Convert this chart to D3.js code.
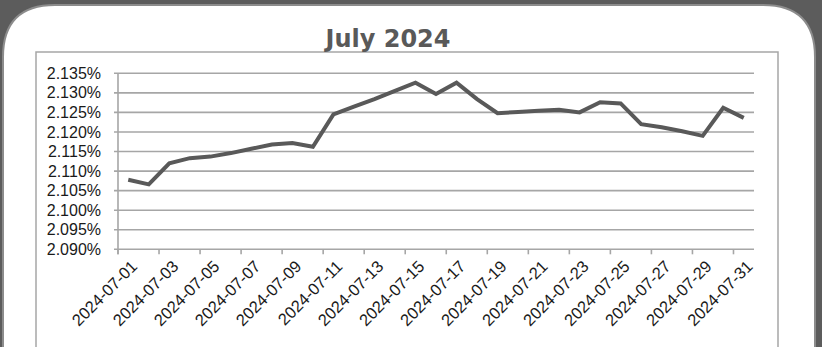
<!DOCTYPE html>
<html><head><meta charset="utf-8">
<script src="https://cdn.jsdelivr.net/npm/d3@7"></script>
<style>body{margin:0;background:#5c5c5c;overflow:hidden}</style>
</head><body>
<svg id="c" width="822" height="347"></svg>
<script>
const dates = ["2024-07-01","2024-07-02","2024-07-03","2024-07-04","2024-07-05","2024-07-06","2024-07-07","2024-07-08","2024-07-09","2024-07-10","2024-07-11","2024-07-12","2024-07-13","2024-07-14","2024-07-15","2024-07-16","2024-07-17","2024-07-18","2024-07-19","2024-07-20","2024-07-21","2024-07-22","2024-07-23","2024-07-24","2024-07-25","2024-07-26","2024-07-27","2024-07-28","2024-07-29","2024-07-30","2024-07-31"];
const rates = [2.1078,2.1066,2.1120,2.1133,2.1137,2.1146,2.1157,2.1168,2.1172,2.1162,2.1245,2.1265,2.1284,2.1305,2.1326,2.1297,2.1326,2.1284,2.1248,2.1251,2.1254,2.1257,2.1250,2.1276,2.1273,2.1220,2.1212,2.1202,2.1190,2.1262,2.1236];
const yTicks = [2.090,2.095,2.100,2.105,2.110,2.115,2.120,2.125,2.130,2.135];
const title = "July 2024";

const svg = d3.select("#c");
svg.append("rect").attr("width",822).attr("height",347).attr("fill","#5c5c5c");
const L=3,T=5,R=815,rad=52;
svg.append("path")
  .attr("d",`M${L},347 L${L},${T+rad} Q${L},${T} ${L+rad},${T} L${R-rad},${T} Q${R},${T} ${R},${T+rad} L${R},347`)
  .attr("fill","#fff").attr("stroke","#8c8c8c").attr("stroke-width",2);
svg.append("rect").attr("x",36).attr("y",52).attr("width",742).attr("height",320)
  .attr("fill","#fff").attr("stroke","#a6a6a6").attr("stroke-width",1.5);

svg.append("text").attr("x",388).attr("y",47).attr("text-anchor","middle")
  .attr("font-family","DejaVu Sans").attr("font-weight","bold").attr("font-size",24)
  .attr("fill","#595959").text(title);

const x0=118,x1=754,yTop=73.3,yBot=249.3;
const x = d3.scaleBand().domain(dates).range([x0,x1]);
const y = d3.scaleLinear().domain([2.090,2.135]).range([yBot,yTop]);

svg.append("g").selectAll("line").data(yTicks).join("line")
  .attr("x1",x0-4).attr("x2",x1).attr("y1",d=>y(d)).attr("y2",d=>y(d))
  .attr("stroke","#a6a6a6").attr("stroke-width",1.6);

const yAxis = d3.axisLeft(y).tickValues(yTicks).tickSize(0).tickPadding(17)
  .tickFormat(d=>d3.format(".3f")(d)+"%");
const gy = svg.append("g").attr("transform",`translate(${x0},0)`).call(yAxis);
gy.select(".domain").remove();
gy.selectAll("text").attr("font-family","Liberation Sans").attr("font-size",16).attr("fill","#1a1a1a");
svg.append("line").attr("x1",x0).attr("x2",x0).attr("y1",yTop).attr("y2",yBot+5)
  .attr("stroke","#a6a6a6").attr("stroke-width",1.6);

const bw = x.bandwidth();
const tickIdx = d3.range(0,dates.length+1,2);
svg.append("g").selectAll("line").data(tickIdx).join("line")
  .attr("x1",i=>x0+i*bw).attr("x2",i=>x0+i*bw).attr("y1",yBot).attr("y2",yBot+5)
  .attr("stroke","#a6a6a6").attr("stroke-width",1.6);

const labels = dates.filter((d,i)=>i%2===0);
svg.append("g").selectAll("text").data(labels).join("text")
  .attr("transform",d=>`translate(${x(d)+bw/2+6},${yBot+14}) rotate(-45)`)
  .attr("text-anchor","end").attr("dy","0.35em")
  .attr("font-family","Liberation Sans").attr("font-size",16.5).attr("fill","#1a1a1a")
  .text(d=>d);

const line = d3.line().x((d,i)=>x(dates[i])+bw/2).y(d=>y(d));
svg.append("path").datum(rates).attr("d",line).attr("fill","none")
  .attr("stroke","#595959").attr("stroke-width",4).attr("stroke-linejoin","miter");
</script>
</body></html>
